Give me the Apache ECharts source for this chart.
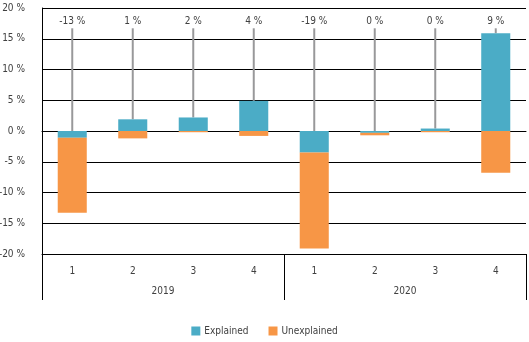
<!DOCTYPE html>
<html>
<head>
<meta charset="utf-8">
<script src="https://cdn.jsdelivr.net/npm/echarts@6/dist/echarts.min.js"></script>
<style>
html, body { margin: 0; padding: 0; background: #fff; }
#container { width: 529px; height: 342px; }
</style>
</head>
<body>
<div id="container"></div>
<script>
const quarters = ['1', '2', '3', '4', '1', '2', '3', '4'];
const years = ['2019', '2020'];
const explained = [-1.1, 1.9, 2.2, 4.9, -3.5, -0.3, 0.4, 15.9];
const unexplained = [-12.2, -1.2, -0.2, -0.8, -15.6, -0.4, -0.2, -6.8];
const totalLabels = ['-13 %', '1 %', '2 %', '4 %', '-19 %', '0 %', '0 %', '9 %'];
const yTicks = ['-20 %', '-15 %', '-10 %', '-5 %', '0 %', '5 %', '10 %', '15 %', '20 %'];

const FONT = '"DejaVu Sans Condensed", "Liberation Sans", sans-serif';
const TEXT = '#404040';

let dom = document.getElementById('container');
let myChart = echarts.init(dom);

// top of each stacked bar (positive part), where the grey leader line stops
let barTops = explained.map(function (e, i) {
    let pos = Math.max(e, 0) + Math.max(unexplained[i], 0);
    return [i, pos];
});

let option = {
    animation: false,
    grid: { left: 42, right: 3, top: 8, bottom: 88, outerBoundsMode: 'none' },
    legend: {
        bottom: 1,
        left: 'center',
        itemWidth: 9,
        itemHeight: 9,
        itemGap: 20,
        icon: 'rect',
        data: ['Explained', 'Unexplained'],
        textStyle: { fontFamily: FONT, fontSize: 10, color: TEXT, padding: [0, 0, 0, -1] }
    },
    xAxis: [
        {
            type: 'category',
            data: quarters,
            position: 'bottom',
            axisLine: { lineStyle: { color: '#000', width: 1 } },
            axisTick: { alignWithLabel: false, length: 6, lineStyle: { color: '#000' } },
            axisLabel: { margin: 12, fontFamily: FONT, fontSize: 10, color: TEXT }
        },
        {
            type: 'category',
            data: years,
            position: 'bottom',
            axisLine: { show: true, lineStyle: { color: '#000', width: 1 } },
            axisTick: { show: true, length: 46, interval: 0, lineStyle: { color: '#000' } },
            axisLabel: { margin: 32, fontFamily: FONT, fontSize: 10, color: TEXT }
        }
    ],
    yAxis: {
        type: 'value',
        min: -20,
        max: 20,
        interval: 5,
        axisLine: { show: true, lineStyle: { color: '#000' } },
        axisTick: { show: false },
        splitLine: { lineStyle: { color: '#000', width: 1 } },
        axisLabel: {
            margin: 17,
            fontFamily: FONT,
            fontSize: 10,
            color: TEXT,
            formatter: function (v) { return yTicks[(v + 20) / 5]; }
        }
    },
    series: [
        {
            name: 'Explained',
            type: 'bar',
            stack: 'total',
            barWidth: '48%',
            data: explained,
            itemStyle: { color: '#4BACC6' }
        },
        {
            name: 'Unexplained',
            type: 'bar',
            stack: 'total',
            data: unexplained,
            itemStyle: { color: '#F79646' }
        },
        {
            name: 'totals',
            type: 'custom',
            data: barTops,
            z: 1,
            renderItem: function (params, api) {
                let i = api.value(0);
                let top = api.coord([i, 16.7]);
                let bottom = api.coord([i, api.value(1)]);
                let lab = api.coord([i, 17.9]);
                return {
                    type: 'group',
                    children: [
                        {
                            type: 'line',
                            shape: { x1: top[0], y1: top[1], x2: bottom[0], y2: bottom[1] },
                            style: { stroke: '#98989A', lineWidth: 2 }
                        },
                        {
                            type: 'text',
                            x: lab[0],
                            y: lab[1],
                            style: {
                                text: totalLabels[i],
                                fill: TEXT,
                                font: '10px ' + FONT,
                                align: 'center',
                                verticalAlign: 'middle'
                            }
                        }
                    ]
                };
            }
        }
    ]
};
myChart.setOption(option);
</script>
</body>
</html>
